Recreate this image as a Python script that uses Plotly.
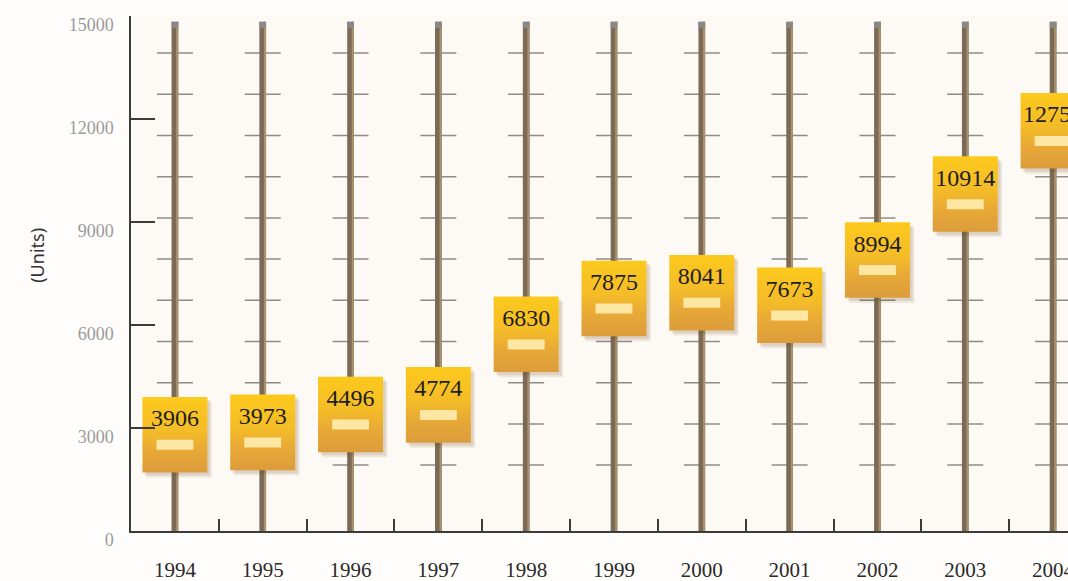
import plotly.graph_objects as go

# Annual units, one slider column per year
years = ["1994", "1995", "1996", "1997", "1998", "1999", "2000", "2001", "2002", "2003", "2004"]
units = [3906, 3973, 4496, 4774, 6830, 7875, 8041, 7673, 8994, 10914, 12755]

y_ticks = [0, 3000, 6000, 9000, 12000, 15000]
y_tick_text = ["0", "3000", "6000", "9000", "12000", "15000"]

# Geometry of the slider thumbs (data units)
THUMB_HALF_W = 0.37
THUMB_H = 2200
TEXT_DROP = 680
HANDLE_TOP = 1250
HANDLE_BOT = 1540
HANDLE_HALF_W = 0.21
COLUMN_TOP = 14830
COLUMN_HALF_W = 0.038
NOTCH_HALF_W = 0.205
notch_levels = [1920 + 1200 * k for k in range(11)]

fig = go.Figure()
shapes = []
xs = list(range(len(years)))

for i in xs:
    # decorative notches along each column
    for lv in notch_levels:
        shapes.append(dict(type="line", layer="below", xref="x", yref="y",
                           x0=i - NOTCH_HALF_W, x1=i + NOTCH_HALF_W, y0=lv, y1=lv,
                           line=dict(color="#8f8b86", width=1.5)))
    # column body with a lighter right edge and a grey cap
    shapes.append(dict(type="rect", layer="below", xref="x", yref="y",
                       x0=i - COLUMN_HALF_W, x1=i + COLUMN_HALF_W, y0=0, y1=COLUMN_TOP,
                       fillcolor="#7b6a55", line=dict(width=0)))
    shapes.append(dict(type="rect", layer="below", xref="x", yref="y",
                       x0=i + COLUMN_HALF_W * 0.35, x1=i + COLUMN_HALF_W, y0=0, y1=COLUMN_TOP,
                       fillcolor="#a8916c", line=dict(width=0)))
    shapes.append(dict(type="rect", layer="below", xref="x", yref="y",
                       x0=i - COLUMN_HALF_W, x1=i + COLUMN_HALF_W, y0=COLUMN_TOP - 180, y1=COLUMN_TOP,
                       fillcolor="#8a8784", line=dict(width=0)))

for i, v in zip(xs, units):
    x0, x1 = i - THUMB_HALF_W, i + THUMB_HALF_W
    y0, y1 = v - THUMB_H, v
    # soft drop shadow
    for dx, dy, a in [(0.05, 150, 0.10), (0.03, 90, 0.14)]:
        fig.add_trace(go.Scatter(
            x=[x0 + dx, x1 + dx, x1 + dx, x0 + dx, x0 + dx],
            y=[y0 - dy, y0 - dy, y1 - dy, y1 - dy, y0 - dy],
            mode="lines", fill="toself", line=dict(width=0),
            fillcolor=f"rgba(110,80,30,{a})", hoverinfo="skip", showlegend=False))
    # thumb body with vertical gold gradient
    fig.add_trace(go.Scatter(
        x=[x0, x1, x1, x0, x0], y=[y0, y0, y1, y1, y0],
        mode="lines", fill="toself", line=dict(width=0),
        fillgradient=dict(type="vertical", colorscale=[
            [0.0, "#dc9c3c"], [0.3, "#e8a936"], [0.55, "#f4bc28"], [1.0, "#fcc91c"]]),
        hoverinfo="skip", showlegend=False))
    # pale grip bar
    fig.add_trace(go.Scatter(
        x=[i - HANDLE_HALF_W, i + HANDLE_HALF_W, i + HANDLE_HALF_W, i - HANDLE_HALF_W, i - HANDLE_HALF_W],
        y=[v - HANDLE_BOT, v - HANDLE_BOT, v - HANDLE_TOP, v - HANDLE_TOP, v - HANDLE_BOT],
        mode="lines", fill="toself", line=dict(width=0),
        fillcolor="#fde7a2", hoverinfo="skip", showlegend=False))

# value labels on the thumbs
fig.add_trace(go.Scatter(
    x=xs, y=[v - TEXT_DROP for v in units], mode="text",
    text=[str(v) for v in units],
    textfont=dict(family="Liberation Serif", size=24, color="#1e1e1e"),
    textposition="middle center", cliponaxis=True, hoverinfo="skip", showlegend=False))

fig.update_layout(
    width=1068, height=581,
    margin=dict(l=131, r=0, t=16, b=50),
    paper_bgcolor="#fffdfb",
    plot_bgcolor="#fdf9f4",
    shapes=shapes,
    showlegend=False,
    xaxis=dict(
        range=[-0.5, 10.17], tickvals=xs, ticktext=years, automargin=False,
        showgrid=False, zeroline=False,
        showline=True, linecolor="#3c3c3c", linewidth=1.5,
        ticks="", ticklabelstandoff=19, ticklabeloverflow="allow",
        tickfont=dict(family="Liberation Serif", size=21, color="#2a2a2a"),
        minor=dict(tickvals=[i + 0.5 for i in xs], ticks="inside", ticklen=12,
                   tickcolor="#3c3c3c", tickwidth=1.5, showgrid=False),
    ),
    yaxis=dict(
        range=[0, 15000], tickvals=y_ticks, ticktext=y_tick_text, automargin=False,
        showgrid=False, zeroline=False,
        showline=True, linecolor="#3c3c3c", linewidth=1.5,
        ticks="inside", ticklen=24, tickcolor="#3c3c3c", tickwidth=1.5,
        ticklabelstandoff=12, ticklabelshift=9, ticklabeloverflow="allow",
        tickfont=dict(family="Liberation Serif", size=18, color="#9a9a9a"),
    ),
    annotations=[dict(
        text="(Units)", textangle=-90, xref="paper", yref="paper",
        x=-0.100, y=0.535, xanchor="center", yanchor="middle", showarrow=False,
        font=dict(family="Noto Sans", size=18, color="#333333"))],
)

fig.write_html("out.html")
